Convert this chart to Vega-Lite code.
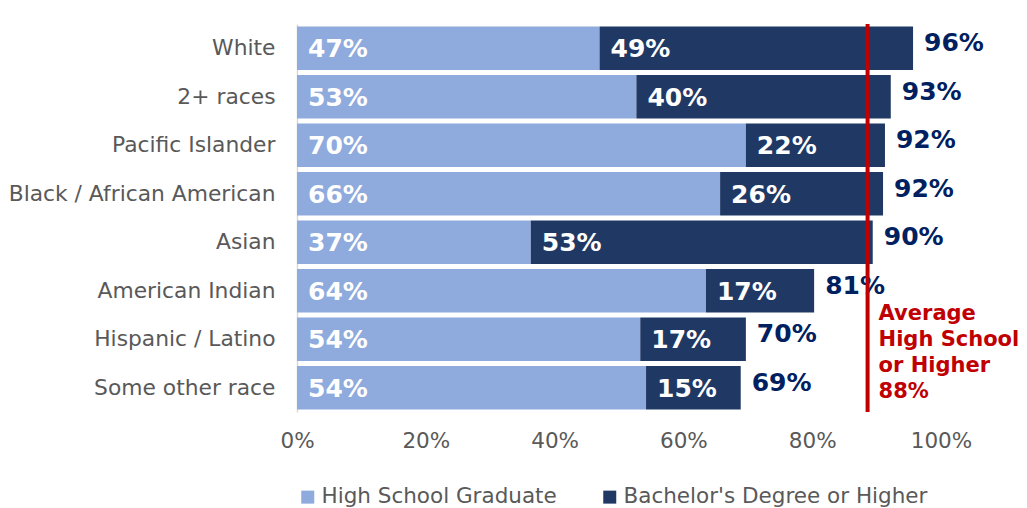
{
  "$schema": "https://vega.github.io/schema/vega-lite/v6.json",
  "autosize": {"type": "none"},
  "padding": {"left": 297, "top": 24, "right": 86, "bottom": 96},
  "width": 644,
  "height": 388,
  "background": "white",
  "config": {
    "view": {"stroke": null},
    "font": "DejaVu Sans"
  },
  "datasets": {
    "segments": [
      {"race": "White", "level": "High School Graduate", "pct": 46.98, "label": "47%"},
      {"race": "White", "level": "Bachelor's Degree or Higher", "pct": 48.68, "label": "49%"},
      {"race": "2+ races", "level": "High School Graduate", "pct": 52.7, "label": "53%"},
      {"race": "2+ races", "level": "Bachelor's Degree or Higher", "pct": 39.5, "label": "40%"},
      {"race": "Pacific Islander", "level": "High School Graduate", "pct": 69.7, "label": "70%"},
      {"race": "Pacific Islander", "level": "Bachelor's Degree or Higher", "pct": 21.6, "label": "22%"},
      {"race": "Black / African American", "level": "High School Graduate", "pct": 65.7, "label": "66%"},
      {"race": "Black / African American", "level": "Bachelor's Degree or Higher", "pct": 25.3, "label": "26%"},
      {"race": "Asian", "level": "High School Graduate", "pct": 36.3, "label": "37%"},
      {"race": "Asian", "level": "Bachelor's Degree or Higher", "pct": 53.1, "label": "53%"},
      {"race": "American Indian", "level": "High School Graduate", "pct": 63.5, "label": "64%"},
      {"race": "American Indian", "level": "Bachelor's Degree or Higher", "pct": 16.8, "label": "17%"},
      {"race": "Hispanic / Latino", "level": "High School Graduate", "pct": 53.3, "label": "54%"},
      {"race": "Hispanic / Latino", "level": "Bachelor's Degree or Higher", "pct": 16.4, "label": "17%"},
      {"race": "Some other race", "level": "High School Graduate", "pct": 54.2, "label": "54%"},
      {"race": "Some other race", "level": "Bachelor's Degree or Higher", "pct": 14.7, "label": "15%"}
    ],
    "totals": [
      {"race": "White", "total": 95.66, "label": "96%"},
      {"race": "2+ races", "total": 92.2, "label": "93%"},
      {"race": "Pacific Islander", "total": 91.3, "label": "92%"},
      {"race": "Black / African American", "total": 91.0, "label": "92%"},
      {"race": "Asian", "total": 89.4, "label": "90%"},
      {"race": "American Indian", "total": 80.3, "label": "81%"},
      {"race": "Hispanic / Latino", "total": 69.7, "label": "70%"},
      {"race": "Some other race", "total": 68.9, "label": "69%"}
    ],
    "average": [
      {"value": 88.6, "label": "Average\nHigh School\nor Higher\n88%", "race": "Hispanic / Latino"}
    ]
  },
  "encoding": {
    "y": {
      "field": "race",
      "type": "nominal",
      "sort": ["White", "2+ races", "Pacific Islander", "Black / African American", "Asian", "American Indian", "Hispanic / Latino", "Some other race"],
      "scale": {"paddingInner": 0.1, "paddingOuter": 0.05},
      "axis": {
        "title": null,
        "ticks": false,
        "labelPadding": 22,
        "labelFontSize": 21.8,
        "labelColor": "#595959",
        "labelFont": "DejaVu Sans",
        "domainColor": "#D9D9D9",
        "domainWidth": 1.5,
        "labelLimit": 400
      }
    }
  },
  "layer": [
    {
      "data": {"name": "segments"},
      "transform": [
        {"stack": "pct", "groupby": ["race"], "sort": [{"field": "level", "order": "descending"}], "as": ["x0", "x1"]}
      ],
      "layer": [
        {
          "mark": {"type": "bar"},
          "encoding": {
            "x": {
              "field": "x0",
              "type": "quantitative",
              "scale": {"domain": [0, 100], "nice": false},
              "axis": {
                "title": null,
                "values": [0, 20, 40, 60, 80, 100],
                "labelExpr": "datum.value + '%'",
                "grid": false,
                "ticks": false,
                "domain": false,
                "labelPadding": 18,
                "labelFontSize": 21.5,
                "labelColor": "#595959",
                "labelFont": "DejaVu Sans",
                "labelFlush": false,
                "labelOverlap": false
              }
            },
            "x2": {"field": "x1"},
            "color": {
              "field": "level",
              "type": "nominal",
              "scale": {
                "domain": ["High School Graduate", "Bachelor's Degree or Higher"],
                "range": ["#8FAADC", "#203864"]
              },
              "legend": {
                "title": null,
                "orient": "bottom",
                "direction": "horizontal",
                "symbolType": "square",
                "symbolSize": 169,
                "symbolStrokeWidth": 0,
                "labelFontSize": 21.5,
                "labelColor": "#595959",
                "labelFont": "DejaVu Sans",
                "labelOffset": 3,
                "columnPadding": 42,
                "offset": 34,
                "labelLimit": 400
              }
            }
          }
        },
        {
          "mark": {"type": "text", "align": "left", "baseline": "middle", "dx": 11, "dy": 1, "fontSize": 25, "fontWeight": "bold", "color": "white", "font": "DejaVu Sans"},
          "encoding": {
            "x": {"field": "x0", "type": "quantitative"},
            "text": {"field": "label"}
          }
        }
      ]
    },
    {
      "data": {"name": "totals"},
      "mark": {"type": "text", "align": "left", "baseline": "middle", "dx": 11, "dy": -5, "fontSize": 25, "fontWeight": "bold", "color": "#002060", "font": "DejaVu Sans"},
      "encoding": {
        "x": {"field": "total", "type": "quantitative"},
        "text": {"field": "label"}
      }
    },
    {
      "data": {"name": "average"},
      "mark": {"type": "rule", "color": "#C00000", "strokeWidth": 4},
      "encoding": {
        "x": {"field": "value", "type": "quantitative"},
        "y": null
      }
    },
    {
      "data": {"name": "average"},
      "mark": {"type": "text", "align": "left", "baseline": "middle", "dx": 11, "dy": -25, "fontSize": 21, "fontWeight": "bold", "color": "#C00000", "lineBreak": "\n", "lineHeight": 26, "font": "DejaVu Sans"},
      "encoding": {
        "x": {"field": "value", "type": "quantitative"},
        "y": {"field": "race", "type": "nominal"},
        "text": {"field": "label"}
      }
    }
  ]
}
